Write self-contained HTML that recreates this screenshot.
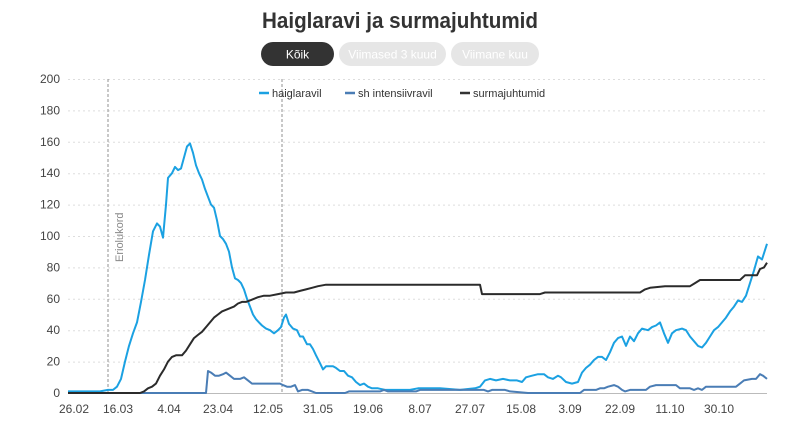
<!DOCTYPE html>
<html><head><meta charset="utf-8"><style>
body{margin:0;background:#fff;width:800px;height:433px;overflow:hidden;font-family:"Liberation Sans",sans-serif}
</style></head><body>
<svg id="s" width="800" height="433" xmlns="http://www.w3.org/2000/svg" font-family="Liberation Sans, sans-serif">
<text x="400" y="28" text-anchor="middle" font-size="22" font-weight="bold" fill="#333" textLength="276" lengthAdjust="spacingAndGlyphs">Haiglaravi ja surmajuhtumid</text>
<rect x="261" y="42" width="73" height="24" rx="12" fill="#333"/>
<text x="297.5" y="58.5" text-anchor="middle" font-size="12" fill="#fff">Kõik</text>
<rect x="339" y="42" width="107" height="24" rx="12" fill="#e6e6e6"/>
<text x="392.5" y="58.5" text-anchor="middle" font-size="12" fill="#fff">Viimased 3 kuud</text>
<rect x="451" y="42" width="88" height="24" rx="12" fill="#e6e6e6"/>
<text x="495" y="58.5" text-anchor="middle" font-size="12" fill="#fff">Viimane kuu</text>
<g id="grid" stroke="#ddd" stroke-dasharray="2,3"></g>
<line x1="68" y1="393.5" x2="767" y2="393.5" stroke="#bbb"/>
<g id="yl" font-size="12" fill="#444" text-anchor="end"></g>
<g id="xl" font-size="12" fill="#444" text-anchor="middle"></g>
<line x1="108" y1="79" x2="108" y2="393" stroke="#777" stroke-dasharray="3,2" stroke-width="0.8"/>
<line x1="282" y1="79" x2="282" y2="393" stroke="#777" stroke-dasharray="3,2" stroke-width="0.8"/>
<text transform="translate(123,262) rotate(-90)" font-size="11" fill="#888">Eriolukord</text>
<line x1="259" y1="93" x2="269" y2="93" stroke="#1ba1e2" stroke-width="2.5"/>
<text x="272" y="97" font-size="11" fill="#333">haiglaravil</text>
<line x1="345" y1="93" x2="355" y2="93" stroke="#4a7db5" stroke-width="2.5"/>
<text x="358" y="97" font-size="11" fill="#333">sh intensiivravil</text>
<line x1="460" y1="93" x2="470" y2="93" stroke="#333" stroke-width="2.5"/>
<text x="473" y="97" font-size="11" fill="#333">surmajuhtumid</text>
<polyline id="p1" fill="none" stroke="#1ba1e2" stroke-width="2" stroke-linejoin="round"/>
<polyline id="p2" fill="none" stroke="#4a7db5" stroke-width="2" stroke-linejoin="round"/>
<polyline id="p3" fill="none" stroke="#2b2b2b" stroke-width="2" stroke-linejoin="round"/>
</svg>
<script>
var NS="http://www.w3.org/2000/svg";
function Y(v){return 393-v*1.57;}
var g=document.getElementById('grid'),yl=document.getElementById('yl'),xl=document.getElementById('xl');
for(var v=20;v<=200;v+=20){var l=document.createElementNS(NS,'line');l.setAttribute('x1',68);l.setAttribute('x2',767);l.setAttribute('y1',Y(v)+0.5);l.setAttribute('y2',Y(v)+0.5);g.appendChild(l);}
for(var v=0;v<=200;v+=20){var t=document.createElementNS(NS,'text');t.setAttribute('x',60);t.setAttribute('y',Y(v)+4);t.textContent=v;yl.appendChild(t);}
var xs=[[74,"26.02"],[118,"16.03"],[169,"4.04"],[218,"23.04"],[268,"12.05"],[318,"31.05"],[368,"19.06"],[420,"8.07"],[470,"27.07"],[521,"15.08"],[570,"3.09"],[620,"22.09"],[670,"11.10"],[719,"30.10"]];
xs.forEach(function(a){var t=document.createElementNS(NS,'text');t.setAttribute('x',a[0]);t.setAttribute('y',413);t.textContent=a[1];xl.appendChild(t);});
function pl(id,d){var s=[];for(var i=0;i<d.length;i+=2)s.push(d[i]+","+Y(d[i+1]).toFixed(1));document.getElementById(id).setAttribute('points',s.join(' '));}
pl('p1',[68,1,100,1,108,2,113,2,117,4,121,9,125,20,129,30,133,38,137,45,141,58,145,72,149,88,153,103,157,108,160,106,163,99,166,120,168,137,172,140,175,144,178,142,181,143,184,150,187,157,190,159,193,153,196,145,199,140,202,136,205,130,208,125,211,120,214,118,217,110,220,100,223,98,226,95,229,90,232,80,235,73,238,72,241,70,244,66,247,60,250,55,253,50,256,47,259,45,262,43,266,41,270,40,274,38,278,40,281,42,284,48,286,50,289,44,293,41,297,40,300,36,303,36,307,31,310,31,313,28,316,24,320,19,323,15,326,17,330,17,333,17,336,16,340,14,344,14,348,11,352,10,356,7,360,5,364,6,368,4,372,3,378,3,385,2,395,2,410,2,418,3,425,3,440,3,460,2,475,3,480,4,485,8,490,9,496,8,503,9,510,8,517,8,522,7,526,10,532,11,538,12,544,12,548,10,553,9,558,11,561,10,566,7,572,6,578,7,582,13,586,16,590,18,594,21,598,23,602,23,606,21,610,26,614,32,618,35,622,36,626,30,630,36,634,33,638,38,642,41,648,40,652,42,656,43,660,45,664,38,668,32,672,38,676,40,682,41,686,40,690,36,694,33,698,30,702,29,706,32,710,36,714,40,718,42,722,45,726,48,730,52,734,55,738,59,742,58,746,62,750,70,754,78,758,87,762,85,767,95]);
pl('p2',[68,0,206,0,208,14,211,13,215,11,219,11,223,12,226,13,230,11,234,9,240,9,244,10,248,8,252,6,258,6,270,6,280,6,283,5,287,4,291,4,295,5,298,1,302,2,308,2,312,1,316,0,345,0,349,1,380,1,384,2,388,1,416,1,420,2,484,2,488,1,492,2,505,2,510,1,528,0,580,0,584,2,596,2,600,3,604,3,608,4,614,5,618,4,622,2,625,1,630,2,646,2,650,4,656,5,676,5,680,3,690,3,694,2,698,3,702,2,706,4,736,4,740,6,744,8,752,9,756,9,760,12,763,11,767,9]);
pl('p3',[68,0,140,0,144,1,148,3,152,4,156,6,160,11,164,15,168,20,172,23,176,24,182,24,186,27,190,31,194,35,198,37,202,39,206,42,210,45,214,48,218,50,222,52,226,53,230,54,234,55,238,57,242,58,246,58,250,59,254,60,258,61,264,62,270,62,278,63,286,64,294,64,300,65,306,66,312,67,318,68,326,69,330,69,480,69,482,63,540,63,545,64,640,64,645,66,650,67,665,68,690,68,695,70,700,72,740,72,745,75,757,75,760,79,764,80,767,83]);
</script>
</body></html>
